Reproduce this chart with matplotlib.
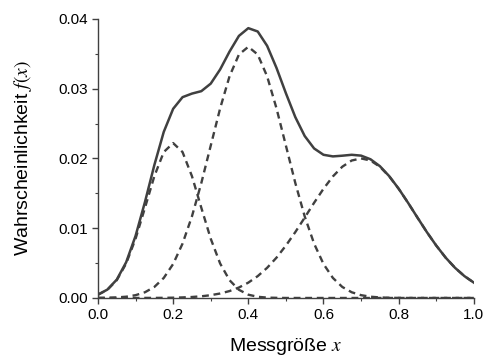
"""Mixture density: three Gaussian components (dashed) and their sum (solid)."""
import matplotlib
matplotlib.use("Agg")
import matplotlib.pyplot as plt
from matplotlib.ticker import MultipleLocator, FormatStrFormatter

x = [i * 0.025 for i in range(41)]
comp1 = [0.00047, 0.00117, 0.00255, 0.00494, 0.00849, 0.01292, 0.01746, 0.02091,
         0.02220, 0.02091, 0.01746, 0.01292, 0.00849, 0.00494, 0.00255, 0.00117,
         0.00047, 0.00017, 0.00005, 0.00002] + [0.0] * 21
comp2 = [0.00001, 0.00003, 0.00008, 0.00018, 0.00040, 0.00082, 0.00158, 0.00287,
         0.00487, 0.00779, 0.01169, 0.01648, 0.02183, 0.02717, 0.03177, 0.03489,
         0.03600, 0.03489, 0.03177, 0.02717, 0.02183, 0.01648, 0.01169, 0.00779,
         0.00487, 0.00287, 0.00158, 0.00082, 0.00040, 0.00018, 0.00008, 0.00003,
         0.00001] + [0.0] * 8
comp3 = [0.0, 0.0, 0.0, 0.0, 0.0, 0.00001, 0.00001, 0.00002,
         0.00004, 0.00008, 0.00014, 0.00024, 0.00040, 0.00064, 0.00099, 0.00150,
         0.00220, 0.00313, 0.00432, 0.00578, 0.00751, 0.00944, 0.01152, 0.01364,
         0.01565, 0.01742, 0.01881, 0.01970, 0.02000, 0.01970, 0.01881, 0.01742,
         0.01565, 0.01364, 0.01152, 0.00944, 0.00751, 0.00578, 0.00432, 0.00313,
         0.00220]
total = [0.00048, 0.00120, 0.00263, 0.00512, 0.00889, 0.01375, 0.01905, 0.02380,
         0.02711, 0.02878, 0.02929, 0.02964, 0.03072, 0.03275, 0.03531, 0.03756,
         0.03867, 0.03819, 0.03614, 0.03297, 0.02934, 0.02592, 0.02321, 0.02143,
         0.02052, 0.02029, 0.02039, 0.02052, 0.02040, 0.01988, 0.01889, 0.01745,
         0.01566, 0.01364, 0.01152, 0.00944, 0.00751, 0.00578, 0.00432, 0.00313,
         0.00220]

plt.rcParams["font.family"] = ["Liberation Sans", "DejaVu Sans"]
plt.rcParams["mathtext.fontset"] = "stix"

col = "#404040"
fig = plt.figure(figsize=(4.85, 3.56), dpi=100)
ax = fig.add_axes([0.202, 0.163, 0.775, 0.784])

for c in (comp1, comp2, comp3):
    ax.plot(x, c, color=col, lw=1.7, ls=(0, (2.9, 2.0)))
ax.plot(x, total, color=col, lw=1.8)

ax.set_xlim(0, 1.0)
ax.set_ylim(0, 0.04)
ax.xaxis.set_major_locator(MultipleLocator(0.2))
ax.xaxis.set_minor_locator(MultipleLocator(0.1))
ax.yaxis.set_major_locator(MultipleLocator(0.01))
ax.yaxis.set_minor_locator(MultipleLocator(0.005))
ax.xaxis.set_major_formatter(FormatStrFormatter("%.1f"))
ax.yaxis.set_major_formatter(FormatStrFormatter("%.2f"))

for s in ("top", "right"):
    ax.spines[s].set_visible(False)
for s in ("left", "bottom"):
    ax.spines[s].set_color(col)
    ax.spines[s].set_linewidth(1.0)
ax.tick_params(which="major", direction="out", length=4, width=1.0,
               color=col, labelsize=11, labelcolor="black")
ax.tick_params(which="minor", direction="out", length=2.5, width=0.8, color=col)

ax.set_xlabel(r"Messgröße $x$", fontsize=14, labelpad=10)
ax.set_ylabel(r"Wahrscheinlichkeit $f(x)$", fontsize=14, labelpad=17)

fig.savefig("out.png", dpi=100)
